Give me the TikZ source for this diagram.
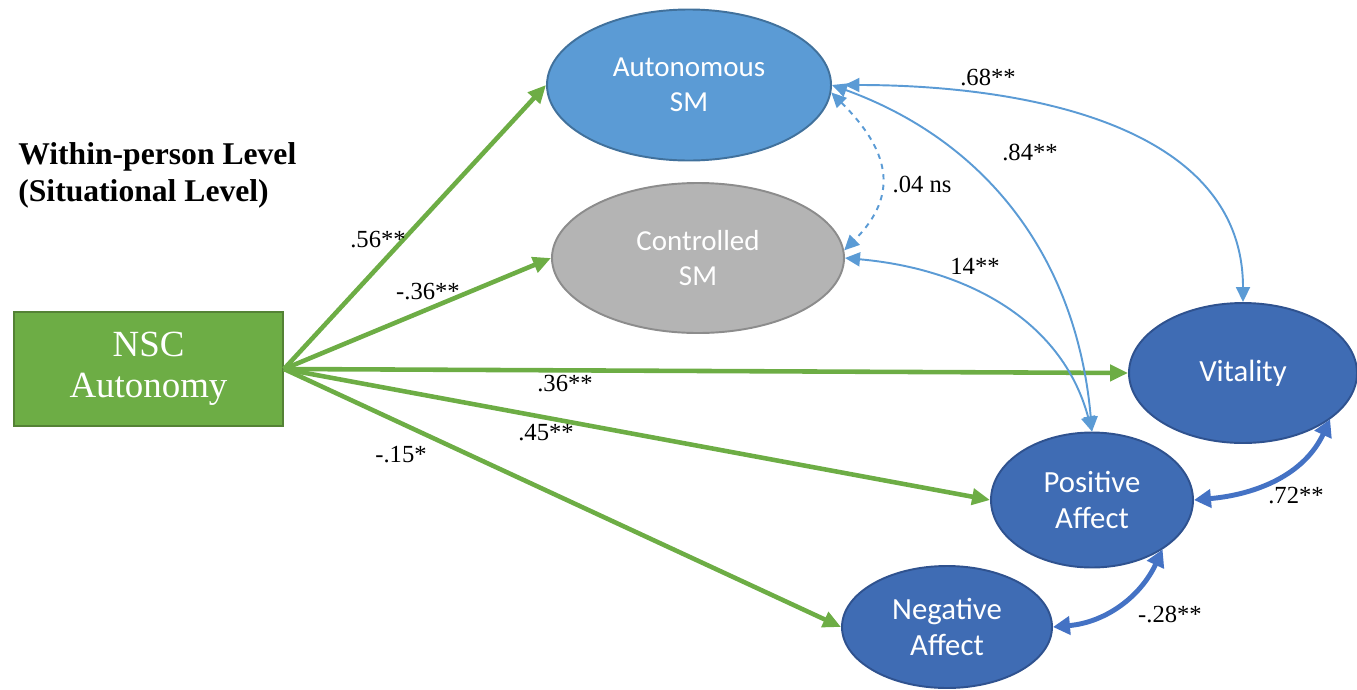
\documentclass[tikz,border=0pt]{standalone}
\usepackage{fontspec}
\setmainfont{Liberation Serif}
\newfontfamily\calibri{Carlito}
\usetikzlibrary{arrows.meta,shapes.geometric}

\definecolor{nscfill}{HTML}{6DAD45}
\definecolor{nscline}{HTML}{548235}
\definecolor{autofill}{HTML}{5B9BD5}
\definecolor{autoline}{HTML}{41719C}
\definecolor{ctrlfill}{HTML}{B4B4B4}
\definecolor{ctrlline}{HTML}{8C8C8C}
\definecolor{outfill}{HTML}{3F6CB4}
\definecolor{outline}{HTML}{2F528F}
\definecolor{corrblue}{HTML}{5B9BD5}
\definecolor{thickblue}{HTML}{4472C4}

\tikzset{
  latent/.style={ellipse, draw, line width=1.1pt, inner sep=0pt, text=white,
    align=center, font=\calibri\fontsize{16.5}{20}\selectfont},
  outcome/.style={latent, fill=outfill, draw=outline,
    font=\calibri\fontsize{17.5}{21}\selectfont},
  predictor/.style={rectangle, draw=nscline, fill=nscfill, line width=1.1pt,
    text=white, align=center, minimum width=53.8mm, minimum height=22.8mm,
    font=\fontsize{21}{23.5}\selectfont},
  heading/.style={anchor=west, inner sep=0pt, align=left,
    font=\bfseries\fontsize{18}{21}\selectfont},
  coef/.style={inner sep=1pt, font=\fontsize{14}{16}\selectfont},
  path/.style={draw=nscfill, line width=2.6pt,
    -{Triangle[length=3.6mm, width=3.2mm]}},
  corr/.style={draw=corrblue, line width=1.1pt,
    {Triangle[length=3mm, width=2.8mm]}-{Triangle[length=3mm, width=2.8mm]}},
  bigcorr/.style={draw=thickblue, line width=2.8pt,
    {Triangle[length=3.4mm, width=3.6mm]}-{Triangle[length=3.4mm, width=3.6mm]}}
}

\begin{document}
\begin{tikzpicture}[x=0.2mm, y=0.2mm]
  % Canvas
  \useasboundingbox (0,0) rectangle (1357,-689);

  % Heading
  \node[heading] (title) at (18,-175) {Within-person Level\\(Situational Level)};

  % Predictor
  \node[predictor] (nsc) at (148.5,-369) {NSC\\Autonomy};

  % Mediators
  \node[latent, fill=autofill, draw=autoline, minimum width=56.8mm,
    minimum height=30.2mm] (asm) at (689,-85) {Autonomous\\SM};
  \node[latent, fill=ctrlfill, draw=ctrlline, minimum width=58.4mm,
    minimum height=30mm] (csm) at (698,-258) {Controlled\\SM};

  % Outcomes
  \node[outcome, minimum width=45.6mm, minimum height=28mm] (vit) at (1243,-373) {Vitality};
  \node[outcome, minimum width=40.4mm, minimum height=27mm] (pa) at (1092,-500) {Positive\\Affect};
  \node[outcome, minimum width=42mm, minimum height=24.4mm] (na) at (947,-627) {Negative\\Affect};

  % Paths from NSC autonomy
  \draw[path] (nsc.east) -- (asm.west);
  \draw[path] (nsc.east) -- (csm.west);
  \draw[path] (nsc.east) -- (vit.west);
  \draw[path] (nsc.east) -- (pa.west);
  \draw[path] (nsc.east) -- (na.west);
  \node[coef] (c56) at (378,-240) {.56**};
  \node[coef] (c36a) at (428,-292) {-.36**};
  \node[coef] (c36b) at (565,-384) {.36**};
  \node[coef] (c45) at (546,-433) {.45**};
  \node[coef] (c15) at (401,-455) {-.15*};

  % Correlations between mediators and outcomes
  \draw[corr, shorten <=2.5mm] (asm.east) to[out=0, in=90] (vit.north);
  \draw[corr] (asm.east) to[out=-20, in=95] (pa.north);
  \draw[corr] (csm.east) to[out=-5, in=105] (pa.north);
  \draw[corr, dashed] (asm.-3) to[out=-45, in=45, looseness=1.3] (csm.3);
  \node[coef] (c68) at (988,-77) {.68**};
  \node[coef] (c84) at (1030,-152) {.84**};
  \node[coef] (c14) at (975,-266) {14**};
  \node[coef] (c04) at (922,-184) {.04 ns};

  % Correlations between outcomes
  \draw[bigcorr] (pa.east) to[out=5, in=-115] (vit.-28);
  \draw[bigcorr] (na.east) to[out=5, in=-115] (pa.-35);
  \node[coef] (c72) at (1296,-496) {.72**};
  \node[coef] (c28) at (1170,-614) {-.28**};
\end{tikzpicture}
\end{document}
